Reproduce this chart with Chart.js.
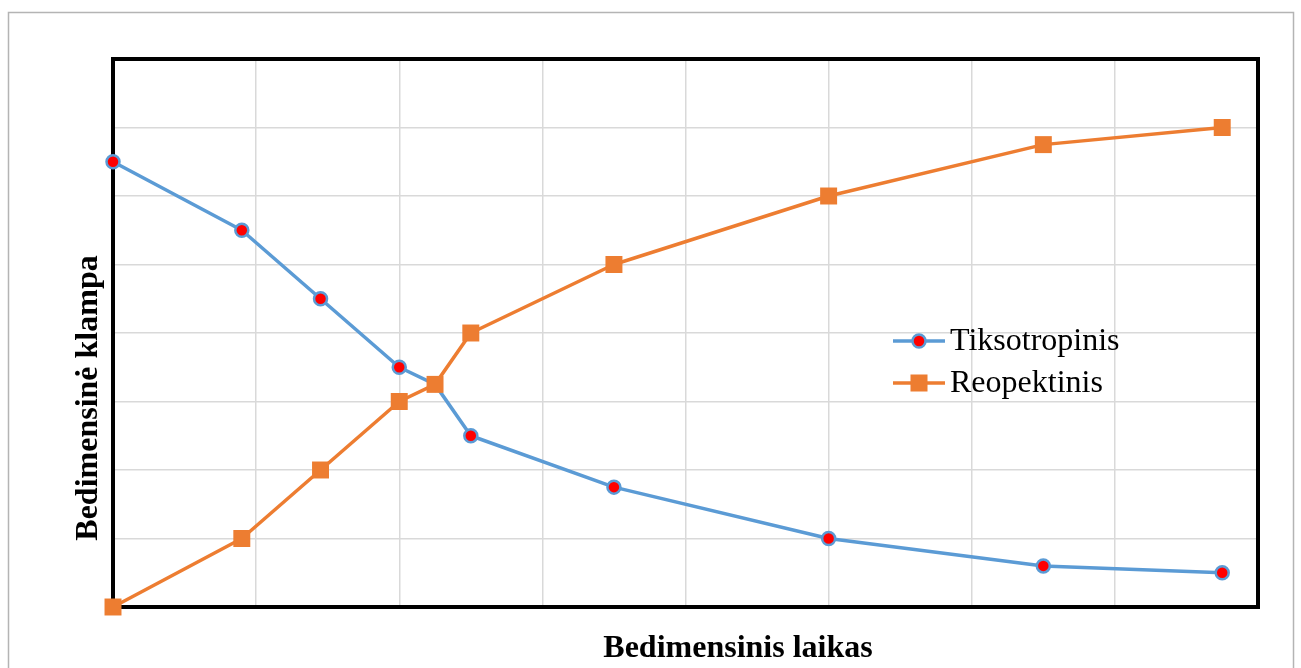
<!DOCTYPE html>
<html lang="lt">
<head>
<meta charset="utf-8">
<title>Bedimensinė klampa</title>
<script src="https://cdn.jsdelivr.net/npm/chart.js@4/dist/chart.umd.min.js"></script>
<style>
  html, body { margin: 0; padding: 0; background: #fff; }
  #wrap { width: 1301px; height: 668px; }
</style>
</head>
<body>
<div id="wrap"><canvas id="viscChart" width="1301" height="668"></canvas></div>
<script>
/* ── Data ── */
const timeValues   = [0, 0.9, 1.45, 2, 2.25, 2.5, 3.5, 5, 6.5, 7.75];
const thixotropic  = [6.5, 5.5, 4.5, 3.5, 3.25, 2.5, 1.75, 1, 0.6, 0.5];
const rheopectic   = [0, 1, 2, 3, 3.25, 4, 5, 6, 6.75, 7];
const seriesNames  = ['Tiksotropinis', 'Reopektinis'];
const xTitle = 'Bedimensinis laikas';
const yTitle = 'Bedimensinė klampa';

const BLUE = '#5b9bd5';
const ORANGE = '#ed7d31';
const SERIF = "'Liberation Serif', 'Times New Roman', serif";

const toPoints = ys => ys.map((y, i) => ({ x: timeValues[i], y }));

/* ── Frame, titles and legend drawn around the plot ── */
const decorations = {
  id: 'decorations',
  beforeDraw(chart) {
    const { ctx, width, height } = chart;
    ctx.save();
    ctx.fillStyle = '#fff';
    ctx.fillRect(0, 0, width, height);
    // outer chart border
    ctx.strokeStyle = '#b4b4b4';
    ctx.lineWidth = 1.5;
    ctx.strokeRect(8.5, 12.5, 1285, 700);
    ctx.restore();
  },
  beforeDatasetsDraw(chart) {
    const { ctx, chartArea: a } = chart;
    ctx.save();
    ctx.strokeStyle = '#000';
    ctx.lineWidth = 4;
    ctx.strokeRect(a.left, a.top, a.right - a.left, a.bottom - a.top);
    ctx.restore();
  },
  afterDraw(chart) {
    const { ctx } = chart;
    ctx.save();
    ctx.fillStyle = '#000';
    ctx.font = 'bold 32px ' + SERIF;
    ctx.textAlign = 'center';
    ctx.textBaseline = 'alphabetic';
    ctx.fillText(xTitle, 738, 657);

    ctx.translate(97, 398);
    ctx.rotate(-Math.PI / 2);
    ctx.fillText(yTitle, 0, 0);
    ctx.restore();

    // legend: line + marker, then label
    const entries = [
      { y: 341, color: BLUE, marker: 'circle' },
      { y: 383, color: ORANGE, marker: 'rect' }
    ];
    ctx.save();
    ctx.font = '32px ' + SERIF;
    ctx.textBaseline = 'middle';
    entries.forEach((e, i) => {
      ctx.strokeStyle = e.color;
      ctx.lineWidth = 3.5;
      ctx.beginPath();
      ctx.moveTo(893, e.y);
      ctx.lineTo(945, e.y);
      ctx.stroke();
      if (e.marker === 'circle') {
        ctx.beginPath();
        ctx.arc(919, e.y, 6.5, 0, Math.PI * 2);
        ctx.fillStyle = '#ff0000';
        ctx.fill();
        ctx.lineWidth = 2.5;
        ctx.strokeStyle = BLUE;
        ctx.stroke();
      } else {
        ctx.fillStyle = ORANGE;
        ctx.fillRect(919 - 8.5, e.y - 8.5, 17, 17);
      }
      ctx.fillStyle = '#000';
      ctx.fillText(seriesNames[i], 950, e.y + 1);
    });
    ctx.restore();
  }
};

new Chart(document.getElementById('viscChart'), {
  type: 'scatter',
  data: {
    datasets: [
      {
        label: seriesNames[0],
        data: toPoints(thixotropic),
        showLine: true,
        borderColor: BLUE,
        borderWidth: 3.5,
        borderJoinStyle: 'round',
        pointStyle: 'circle',
        pointRadius: 6.5,
        pointBackgroundColor: '#ff0000',
        pointBorderColor: BLUE,
        pointBorderWidth: 2.5,
        pointHoverRadius: 6.5,
        tension: 0,
        clip: false,
        order: 2
      },
      {
        label: seriesNames[1],
        data: toPoints(rheopectic),
        showLine: true,
        borderColor: ORANGE,
        borderWidth: 3.5,
        borderJoinStyle: 'round',
        pointStyle: 'rect',
        pointRadius: 12,
        pointBackgroundColor: ORANGE,
        pointBorderColor: ORANGE,
        pointBorderWidth: 0,
        pointHoverRadius: 12,
        tension: 0,
        clip: false,
        order: 1
      }
    ]
  },
  options: {
    responsive: false,
    animation: false,
    devicePixelRatio: 1,
    layout: { padding: { left: 113, top: 59, right: 43, bottom: 61 } },
    scales: {
      x: {
        type: 'linear',
        min: 0,
        max: 8,
        ticks: { display: false, stepSize: 1 },
        grid: { color: '#d9d9d9', lineWidth: 1.5, drawTicks: false },
        border: { display: false }
      },
      y: {
        type: 'linear',
        min: 0,
        max: 8,
        ticks: { display: false, stepSize: 1 },
        grid: { color: '#d9d9d9', lineWidth: 1.5, drawTicks: false },
        border: { display: false }
      }
    },
    plugins: {
      legend: { display: false },
      tooltip: { enabled: false }
    }
  },
  plugins: [decorations]
});
</script>
</body>
</html>
